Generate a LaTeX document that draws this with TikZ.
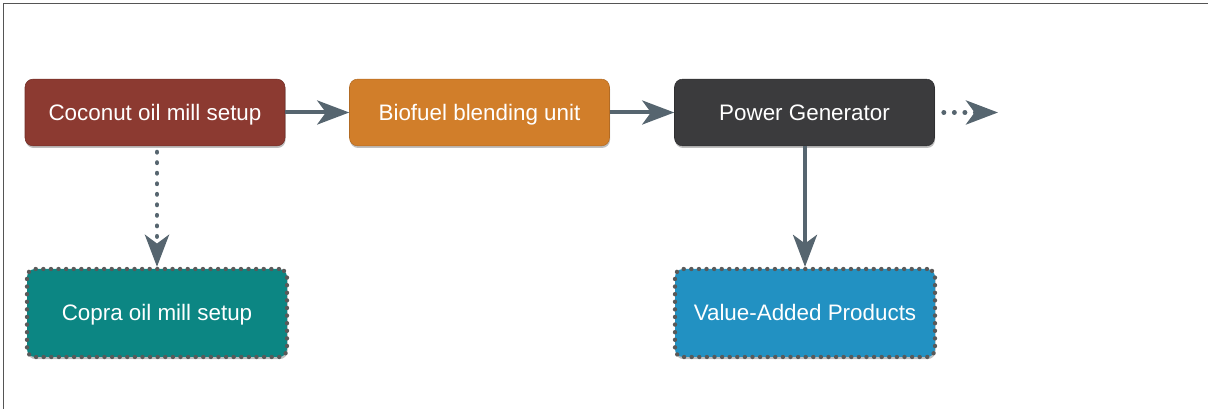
\documentclass[tikz,border=0pt]{standalone}
\usepackage{fontspec}
\setmainfont{Liberation Sans}
\usepackage{tikz}
\usetikzlibrary{arrows.meta,shadows}
\usepackage{xcolor}
\definecolor{coconut}{HTML}{8C3A31}
\definecolor{biofuel}{HTML}{D17E2A}
\definecolor{powergen}{HTML}{3B3B3D}
\definecolor{copra}{HTML}{0C8683}
\definecolor{valueadd}{HTML}{2291C2}
\definecolor{slate}{HTML}{56656F}
\definecolor{framegray}{HTML}{555555}

\begin{document}
\begin{tikzpicture}[x=0.75pt, y=-0.75pt,
  box/.style={rounded corners=6pt, minimum width=195pt, minimum height=50pt,
    text=white, font=\fontsize{16.8pt}{20pt}\selectfont, inner sep=0pt,
    text height=12.5pt, text depth=1pt,
    drop shadow={shadow xshift=0.4pt, shadow yshift=-1.6pt, opacity=.5}},
  dotbox/.style={box, minimum height=66pt, draw=gray!70!black, line width=3.2pt,
    line cap=round, dash pattern=on 0.1pt off 5.6pt},
  flow/.style={slate, line width=3pt, -{Stealth[length=24pt, width=18pt, inset=6.5pt]}},
  dotflow/.style={flow, line cap=round, line width=3.6pt, dash pattern=on 0.1pt off 7.8pt}]
  \useasboundingbox (0,0) rectangle (1208,409);
  \draw[framegray, line width=1.4pt] (3.5,409) -- (3.5,3.5) -- (1208,3.5);
  % top row
  \node[box, fill=coconut, draw=coconut!80!black] (mill) at (155,112.5) {Coconut oil mill setup};
  \node[box, fill=biofuel, draw=biofuel!85!black] (blend) at (479.5,112.5) {Biofuel blending unit};
  \node[box, fill=powergen, draw=powergen!80!black] (power) at (804.5,112.5) {Power Generator};
  \coordinate (more) at (998,112.5);
  % bottom row
  \node[dotbox, fill=copra] (copra) at (157,313) {Copra oil mill setup};
  \node[dotbox, fill=valueadd] (products) at (805,313) {Value-Added Products};
  % connectors
  \draw[flow] (mill) -- (blend);
  \draw[flow] (blend) -- (power);
  \draw[dotflow] (power.east) ++(9,0) -- (more);
  \draw[dotflow] (mill.south -| copra.north) ++(0,6) -- (copra.north);
  \draw[flow] (power.south -| products.north) -- (products.north);
\end{tikzpicture}
\end{document}
